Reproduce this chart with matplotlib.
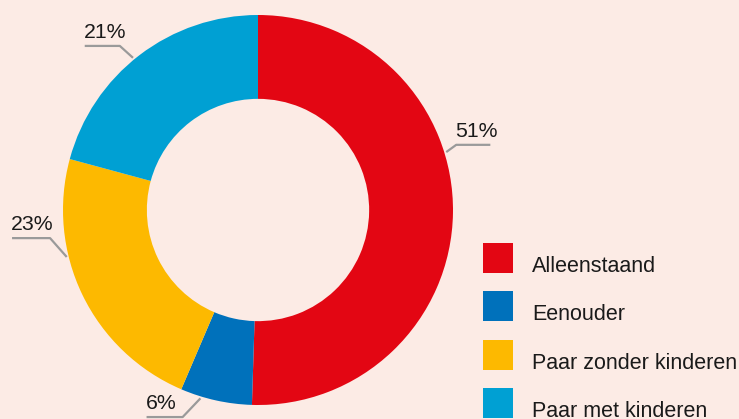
import numpy as np
import matplotlib.pyplot as plt
from matplotlib.patches import Rectangle

# Household types (share in %)
categories = ["Alleenstaand", "Eenouder", "Paar zonder kinderen", "Paar met kinderen"]
shares = [51, 6, 23, 21]
labels = ["51%", "6%", "23%", "21%"]

colors = ["#E30613", "#0071BB", "#FDB900", "#00A0D3"]
bg = "#FCEBE5"
line_grey = "#9A9A9A"

# label leader layout: anchor angle, elbow angle, elbow radius, horizontal length (+ right / - left)
anchor_ang = [17.1, 253.0, 193.8, 129.4]
elbow_ang = [18.2, 250.0, 187.7, 130.1]
elbow_r = [1.07, 1.13, 1.076, 1.10]
hor_len = [0.175, -0.185, -0.195, -0.18]

W, H = 739, 419
fig = plt.figure(figsize=(W / 100, H / 100), dpi=100)
fig.patch.set_facecolor(bg)
plt.rcParams['font.family'] = ['Liberation Sans', 'DejaVu Sans']

# donut axes: centre (258, 210) px, outer radius 195 px
cx, cy, R = 258, 210, 195
ax = fig.add_axes([(cx - R) / W, (H - cy - R) / H, 2 * R / W, 2 * R / H])
ax.set_facecolor(bg)
ax.pie(shares, colors=colors, startangle=90, counterclock=False, radius=1,
       wedgeprops=dict(width=0.43, linewidth=0))
ax.set_xlim(-1, 1)
ax.set_ylim(-1, 1)
ax.set_aspect('equal')
ax.axis('off')

for lab, a0, a1, r1, hl in zip(labels, anchor_ang, elbow_ang, elbow_r, hor_len):
    t0, t1 = np.radians(a0), np.radians(a1)
    x0, y0 = 1.01 * np.cos(t0), 1.01 * np.sin(t0)
    x1, y1 = r1 * np.cos(t1), r1 * np.sin(t1)
    x2 = x1 + hl
    ax.plot([x0, x1, x2], [y0, y1, y1], color=line_grey, lw=1.6, clip_on=False,
            solid_capstyle='butt')
    ax.text(min(x1, x2) - 0.005, y1 + 0.02, lab, ha='left', va='bottom',
            fontsize=15.3, color="#1a1a1a", clip_on=False)

# legend
sq = 30
tops = [243, 291, 340, 388]
for cat, col, top in zip(categories, colors, tops):
    fig.patches.append(Rectangle((483 / W, 1 - (top + sq) / H), sq / W, sq / H,
                                 transform=fig.transFigure, facecolor=col,
                                 edgecolor='none'))
    fig.text(532 / W, 1 - (top + sq / 2 + 8) / H, cat, ha='left', va='center',
             fontsize=15.5, color="#1a1a1a")

fig.savefig("out.png", dpi=100, facecolor=bg)
